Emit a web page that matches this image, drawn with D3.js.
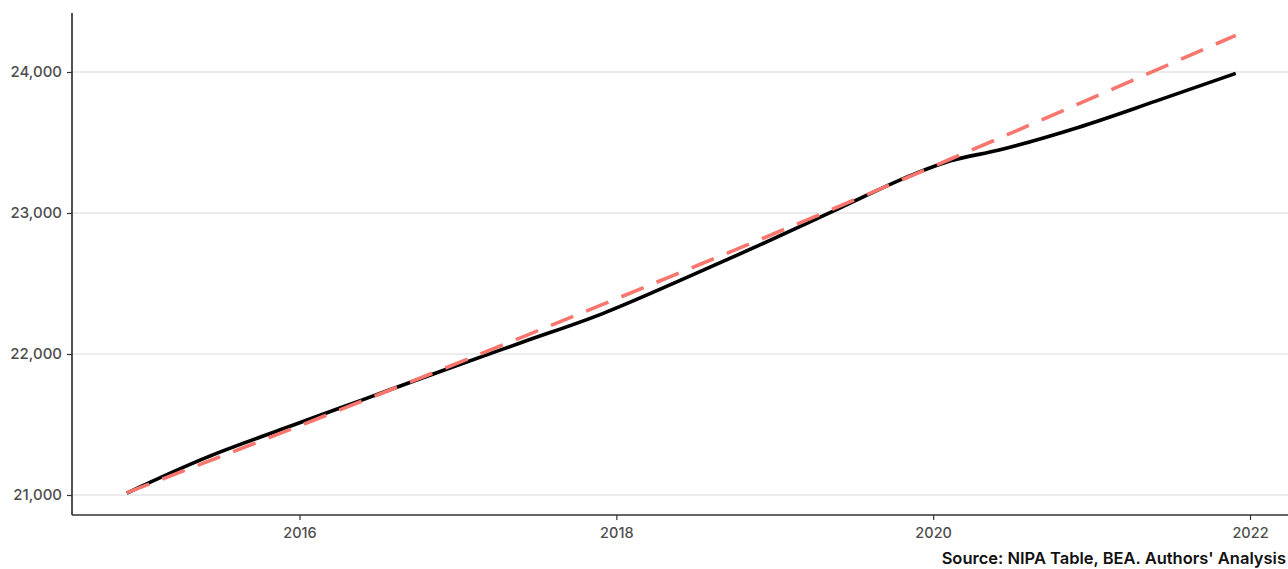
<!DOCTYPE html>
<html>
<head>
<meta charset="utf-8">
<script src="https://cdn.jsdelivr.net/npm/d3@7/dist/d3.min.js"></script>
<style>
  html, body { margin: 0; padding: 0; background: #ffffff; }
  svg { display: block; }
  text { font-family: Inter, "Noto Sans", sans-serif; }
</style>
</head>
<body>
<svg id="chart" width="1288" height="569"></svg>
<script>
// ---- data (decimal years, values) ----
const years = [2014.91, 2015.41, 2015.91, 2016.41, 2016.91, 2017.41, 2017.91, 2018.41,
               2018.91, 2019.41, 2019.91, 2020.11, 2020.41, 2020.91, 2021.41, 2021.91];
const actual = [21014, 21265, 21475, 21680, 21885, 22085, 22285, 22525,
                22775, 23035, 23290, 23370, 23445, 23605, 23795, 23990];
const trend  = [21016, 21233, 21451, 21673, 21896, 22122, 22350, 22581,
                22813, 23049, 23287, 23383, 23527, 23770, 24015, 24260];
const xTicks = [2016, 2018, 2020, 2022];
const yTicks = [21000, 22000, 23000, 24000];
const sourceNote = "Source: NIPA Table, BEA. Authors' Analysis";

// ---- layout ----
const W = 1288, H = 569;
const svg = d3.select("#chart");
const plotLeft = 72, plotRight = 1288, plotTop = 13, plotBottom = 515;

const x = d3.scaleLinear().domain([2016, 2022]).range([299.5, 1250]);
const y = d3.scaleLinear().domain([21000, 24000]).range([495, 72]);

// gridlines
svg.append("g").selectAll("line").data(yTicks).join("line")
  .attr("x1", plotLeft).attr("x2", plotRight)
  .attr("y1", d => y(d)).attr("y2", d => y(d))
  .attr("stroke", "#e6e6e6").attr("stroke-width", 1.3);

// lines
const line = (vals) => d3.line().curve(d3.curveMonotoneX)
  .x((d, i) => x(years[i])).y(d => y(d))(vals);

svg.append("path").attr("d", line(actual))
  .attr("fill", "none").attr("stroke", "#000000").attr("stroke-width", 3.6)
  .attr("stroke-linejoin", "round");

svg.append("path").attr("d", line(trend))
  .attr("fill", "none").attr("stroke", "#f8766d").attr("stroke-width", 3.6)
  .attr("stroke-dasharray", "24,14");

// y axis
const yAxis = d3.axisLeft(y).tickValues(yTicks).tickSize(5).tickPadding(5)
  .tickFormat(d3.format(","));
const gy = svg.append("g").attr("transform", `translate(${plotLeft},0)`).call(yAxis);
gy.select(".domain").remove();
gy.append("line").attr("x1", 0).attr("x2", 0).attr("y1", plotTop).attr("y2", plotBottom)
  .attr("stroke", "#333").attr("stroke-width", 1.7);
gy.selectAll(".tick line").attr("stroke", "#333").attr("stroke-width", 1.2);
gy.selectAll(".tick text").attr("fill", "#4d4d4d").attr("font-size", 15)
  .attr("font-weight", 500);

// x axis
const xAxis = d3.axisBottom(x).tickValues(xTicks).tickSize(5).tickPadding(8)
  .tickFormat(d3.format("d"));
const gx = svg.append("g").attr("transform", `translate(0,${plotBottom})`).call(xAxis);
gx.select(".domain").remove();
gx.append("line").attr("x1", plotLeft).attr("x2", plotRight).attr("y1", 0).attr("y2", 0)
  .attr("stroke", "#333").attr("stroke-width", 1.7);
gx.selectAll(".tick line").attr("stroke", "#333").attr("stroke-width", 1.2);
gx.selectAll(".tick text").attr("fill", "#4d4d4d").attr("font-size", 14.5)
  .attr("font-weight", 500);

// source caption
svg.append("text").attr("x", 1286).attr("y", 564).attr("text-anchor", "end")
  .attr("font-size", 16.5).attr("font-weight", 600).attr("fill", "#111")
  .text(sourceNote);
</script>
</body>
</html>
